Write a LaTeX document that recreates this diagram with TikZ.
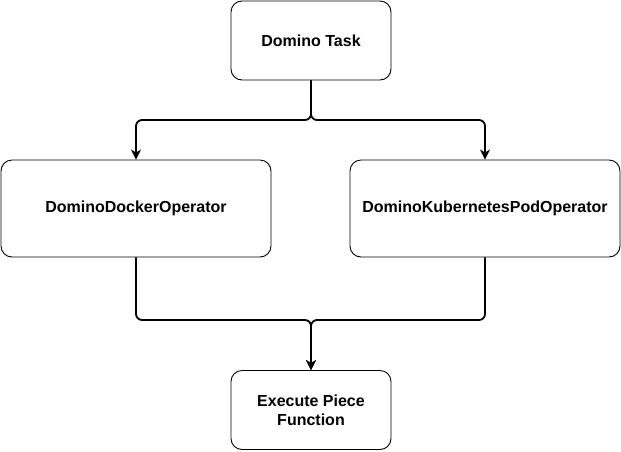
\documentclass[tikz,border=0pt]{standalone}
\usepackage{fontspec}
\setmainfont{Liberation Sans}
\usetikzlibrary{arrows.meta}

\begin{document}
\begin{tikzpicture}[x=1pt,y=-1pt,
  box/.style={draw,rounded corners=11pt,line width=0.9pt,align=center,
    font=\fontsize{16}{19}\selectfont\bfseries,inner sep=0pt},
  link/.style={line width=1.8pt,rounded corners=6pt,
    -{Stealth[length=10pt,width=10pt,inset=3pt]}}]
  \useasboundingbox (0,0) rectangle (621,451);
  % boxes
  \node [box,minimum width=160pt,minimum height=79pt] (task) at (311,40.5) {Domino Task};
  \node [box,minimum width=270pt,minimum height=97pt] (docker) at (136,208.5) {DominoDockerOperator};
  \node [box,minimum width=270pt,minimum height=97pt] (kube) at (485,208.5) {DominoKubernetesPodOperator};
  \node [box,minimum width=160pt,minimum height=79pt] (exec) at (311,410) {Execute Piece\\Function};
  % forks
  \coordinate (split) at (311,120);
  \coordinate (merge) at (311,320);
  \draw[link] (task) -- (split) -| (docker);
  \draw[link] (task) -- (split) -| (kube);
  \draw[link] (docker) |- (merge) -- (exec);
  \draw[link] (kube) |- (merge) -- (exec);
\end{tikzpicture}
\end{document}
